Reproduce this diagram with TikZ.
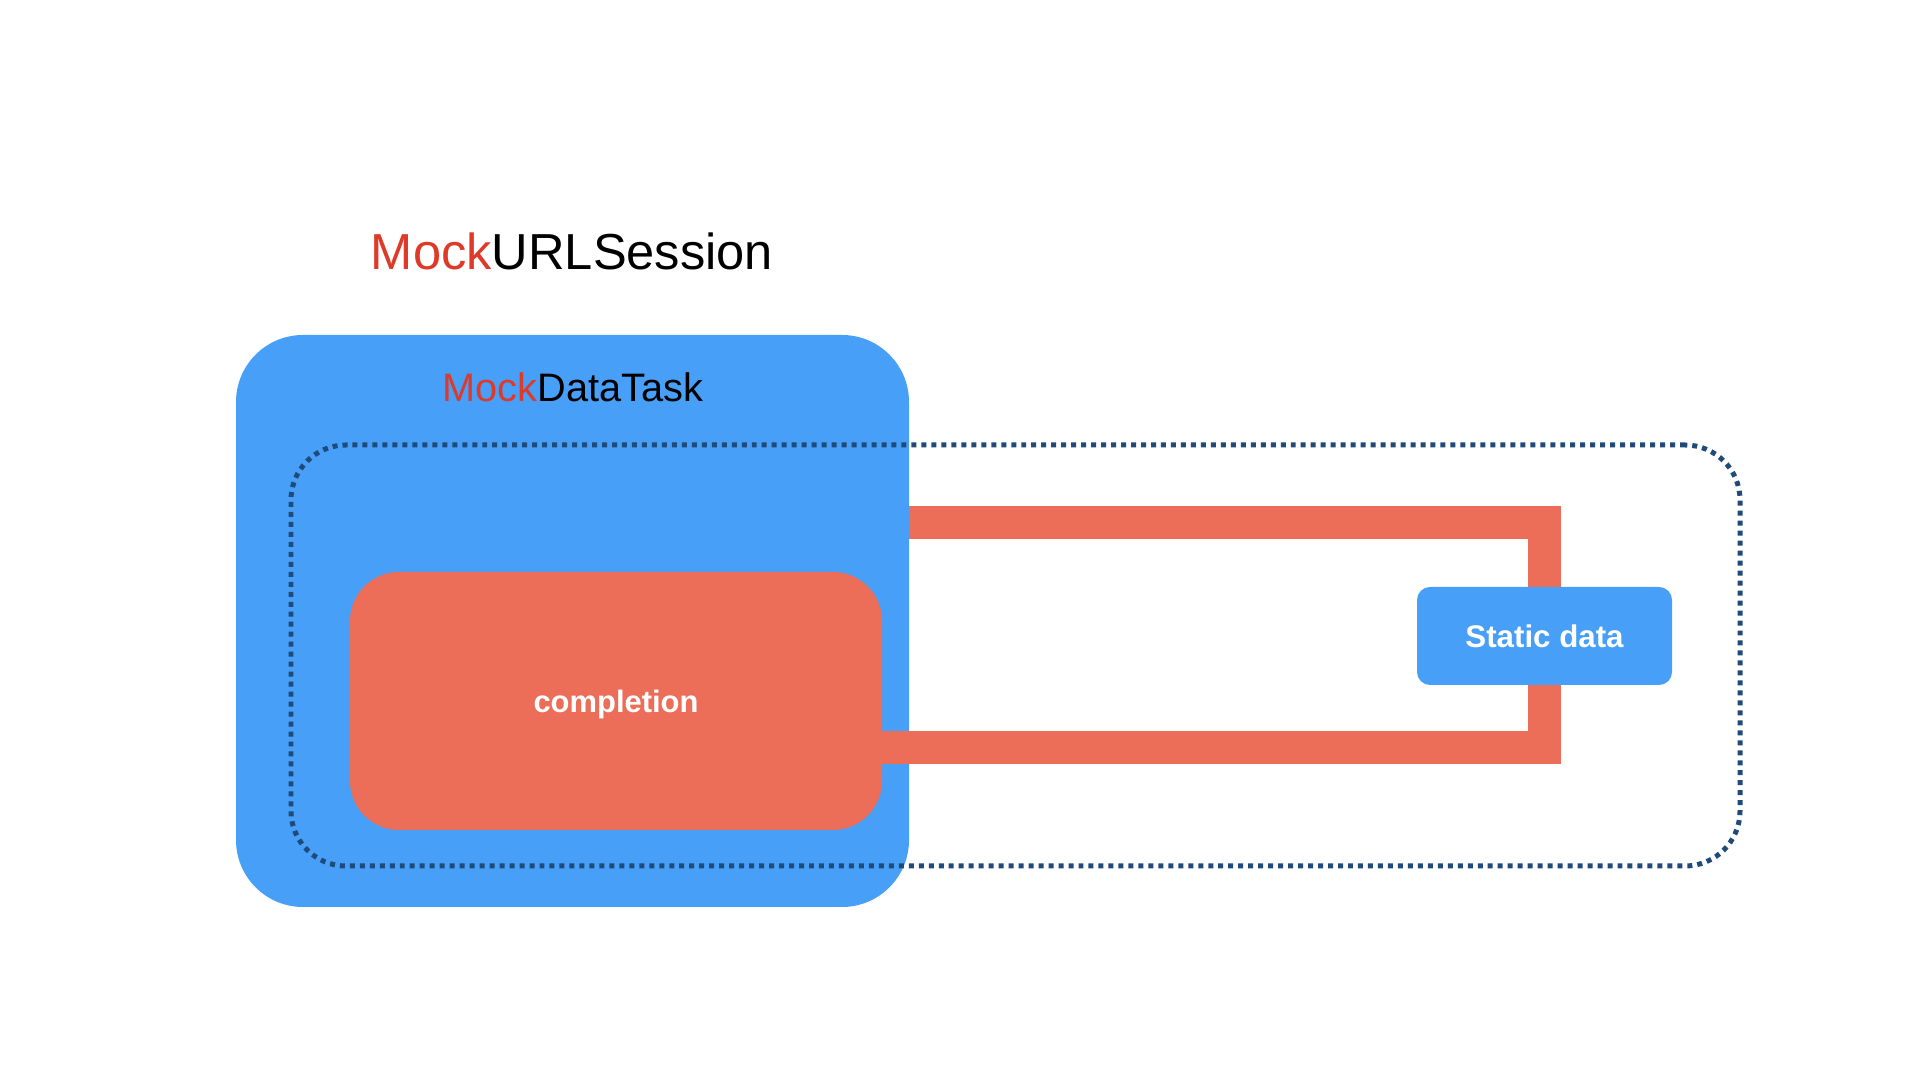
\documentclass[tikz,border=0pt]{standalone}
\usepackage{fontspec}
\setmainfont{Liberation Sans}
\usetikzlibrary{calc,positioning}
\definecolor{taskblue}{HTML}{479FF8}
\definecolor{compred}{HTML}{EC6E58}
\definecolor{mockred}{HTML}{DE3A29}
\definecolor{scopec}{HTML}{1F4A7A}
\begin{document}
\begin{tikzpicture}[
  box/.style={inner sep=0,outer sep=0},
  wire/.style={compred,line width=.33cm,line join=miter}]
\useasboundingbox[fill=white] (0,0) rectangle (19.2,10.8);
\node[font=\fontsize{14.4}{17}\selectfont] (session) at (5.72,8.29){\textcolor{mockred}{Mock}URLSession};
\node[box,fill=taskblue,rounded corners=.67cm,minimum width=6.73cm,minimum height=5.72cm] (task) at (5.725,4.59){};
\node[font=\fontsize{11.3}{14}\selectfont] (tasklbl) at (5.73,6.93){\textcolor{mockred}{Mock}DataTask};
\node[box,draw=scopec,line width=1.42pt,dash pattern=on 1.42pt off 1.42pt,rounded corners=.55cm,minimum width=14.49cm,minimum height=4.21cm] (scope) at (10.155,4.245){};
\node[box,fill=compred,rounded corners=.49cm,minimum width=5.32cm,minimum height=2.58cm,text=white,text depth=0pt,font=\bfseries\fontsize{8.8}{11}\selectfont] (completion) at (6.16,3.79){completion};
\coordinate (tapin) at (task.east |- 0,5.57);
\coordinate (tapout) at (completion.east |- 0,3.32);
\coordinate (bend) at (15.445,4.44);
\draw[wire] (tapin) -| (bend) |- (tapout);
\node[box,fill=taskblue,rounded corners=.13cm,minimum width=2.55cm,minimum height=.98cm,text=white,font=\bfseries\fontsize{8.9}{11}\selectfont] (static) at (bend){Static data};
\end{tikzpicture}
\end{document}
